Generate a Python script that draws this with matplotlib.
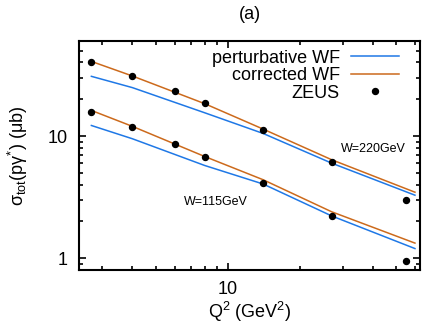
import numpy as np
import matplotlib
matplotlib.use('Agg')
import matplotlib.pyplot as plt

plt.rcParams['font.family'] = ['Liberation Sans', 'DejaVu Sans']
plt.rcParams['mathtext.fontset'] = 'custom'
plt.rcParams['mathtext.rm'] = 'Liberation Sans'
plt.rcParams['mathtext.it'] = 'Liberation Sans'
plt.rcParams['mathtext.default'] = 'regular'

# ZEUS data
q2_zeus = [2.7, 4, 6, 8, 14, 27, 55]
zeus_220 = [40.7, 31.0, 23.2, 18.5, 11.3, 6.1, 3.0]
zeus_115 = [15.6, 11.9, 8.6, 6.76, 4.14, 2.22, 0.95]

# model curves
q2_line = [2.7, 4, 8, 14, 27, 60]
pert_220 = [30.8, 24.9, 15.5, 10.5, 6.0, 3.28]
corr_220 = [40.8, 31.0, 18.4, 11.4, 6.4, 3.47]
pert_115 = [12.2, 9.5, 5.74, 4.05, 2.22, 1.20]
corr_115 = [16.2, 12.0, 6.8, 4.39, 2.40, 1.33]

blue = '#1f78e6'
orange = '#cc6a1c'

fig = plt.figure(figsize=(4.23, 3.25), dpi=100)
ax = fig.add_axes([0.187, 0.169, 0.806, 0.705])

ax.plot(q2_line, pert_220, color=blue, lw=1.1, label='perturbative WF')
ax.plot(q2_line, corr_220, color=orange, lw=1.1, label='corrected WF')
ax.plot(q2_zeus, zeus_220, 'o', color='k', ms=4.3, label='ZEUS')
ax.plot(q2_line, pert_115, color=blue, lw=1.1)
ax.plot(q2_line, corr_115, color=orange, lw=1.1)
ax.plot(q2_zeus, zeus_115, 'o', color='k', ms=4.3)

ax.set_xscale('log')
ax.set_yscale('log')
ax.set_xlim(2.4, 63)
ax.set_ylim(0.8, 60)

ax.set_xticks([10])
ax.set_xticklabels(['10'])
ax.set_yticks([1, 10])
ax.set_yticklabels(['1', '10'])
ax.tick_params(which='both', direction='in', top=True, right=True, width=1.2, labelsize=13)
ax.tick_params(which='major', length=5, pad=8)
ax.tick_params(which='minor', length=3)
for s in ax.spines.values():
    s.set_linewidth(1.5)

ax.set_xlabel(r'Q$^2$ (GeV$^2$)', fontsize=13, labelpad=1)
ax.set_ylabel(r'$\sigma_{tot}$(p$\gamma^{*}$) ($\mu$b)', fontsize=13, labelpad=13)
ax.set_title('(a)', fontsize=13, pad=16)

ax.text(29.4, 7.76, 'W=220GeV', fontsize=9, ha='left', va='center')
ax.text(6.58, 2.88, 'W=115GeV', fontsize=9, ha='left', va='center')

ax.legend(loc='upper right', bbox_to_anchor=(0.955, 0.985), frameon=False,
          markerfirst=False, fontsize=13, handlelength=2.7, labelspacing=0.02,
          borderaxespad=0.0, handletextpad=0.6, borderpad=0.3)

fig.savefig('out.png', dpi=100)
